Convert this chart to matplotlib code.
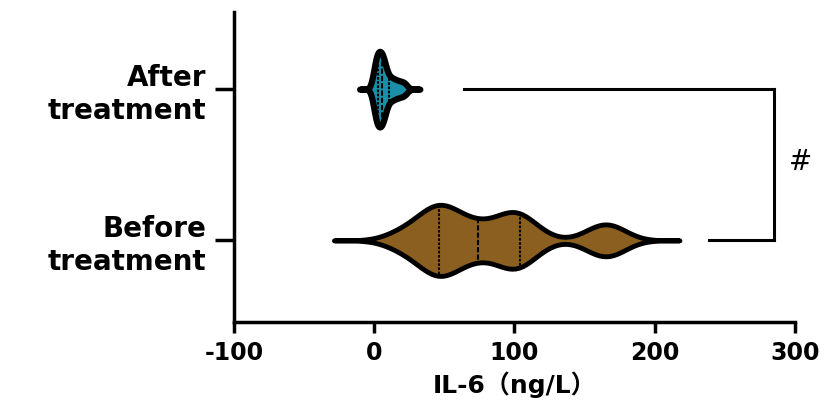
import numpy as np
import pandas as pd
import matplotlib
matplotlib.use('Agg')
import matplotlib.pyplot as plt
import seaborn as sns

plt.rcParams['font.family'] = ['DejaVu Sans', 'Noto Sans CJK SC']
plt.rcParams['font.weight'] = 'bold'

# IL-6 values (ng/L)
after = [0.1, 0.6, 1.0, 1.5, 2.1, 2.5, 3.0, 3.4, 4.0, 4.5, 5.0, 5.4, 6.0, 6.5,
         7.0, 7.6, 8.1, 10.0, 11.5, 13.0, 15.0, 17.0, 19.5, 22.0]
before = [15, 22, 28, 33, 37, 40, 42, 44, 45, 46, 48, 50, 52, 55, 58, 62, 66, 70,
          74, 80, 86, 91, 95, 97, 99, 101, 102, 104, 107, 111, 118,
          155, 160, 164, 167, 170, 174]
groups = ['After\ntreatment', 'Before\ntreatment']
colors = ['#1a8fa8', '#8b5f1f']
xticks = [-100, 0, 100, 200, 300]

fig = plt.figure(figsize=(8.27, 4.01), dpi=100)
ax = fig.add_axes([0.283, 0.197, 0.678, 0.773])

# one call per group so each gets its own smoothing
for grp, vals, col, bw, cut, w, lwv in [(groups[0], after, colors[0], 0.65, 5.0, 0.5, 4.5),
                                        (groups[1], before, colors[1], 0.55, 3.6, 0.47, 3.5)]:
    df = pd.DataFrame({'group': [grp] * len(vals), 'value': vals})
    sns.violinplot(data=df, x='value', y='group', order=groups, color=col,
                   orient='h', inner='quart', density_norm='width', width=w,
                   cut=cut, bw_adjust=bw, linewidth=lwv, linecolor='black',
                   saturation=1, inner_kws=dict(linewidth=1.5, color='black'),
                   ax=ax)

# significance bracket
lw = 2.2
ax.plot([64, 285], [0, 0], color='black', lw=lw, clip_on=False)
ax.plot([285, 285], [0, 1], color='black', lw=lw, clip_on=False)
ax.plot([239, 285], [1, 1], color='black', lw=lw, clip_on=False)
ax.text(304, 0.48, '#', fontsize=20, fontweight='normal', ha='center', va='center')

ax.set_xlim(-100, 300)
ax.set_ylim(1.54, -0.51)
ax.set_xticks(xticks)
ax.set_xticklabels([str(t) for t in xticks], fontsize=17, fontweight='bold')
ax.set_yticks([0, 1])
ax.set_yticklabels(groups, fontsize=20, fontweight='bold')
ax.set_xlabel('IL-6（ng/L）', fontsize=18, fontweight='bold', labelpad=4)
ax.set_ylabel('')

for s in ['top', 'right']:
    ax.spines[s].set_visible(False)
for s in ['left', 'bottom']:
    ax.spines[s].set_linewidth(2.5)
ax.tick_params(axis='x', length=8, width=2.5, pad=6)
ax.tick_params(axis='y', length=14, width=2.5, pad=6)

fig.savefig('out.png', dpi=100)
